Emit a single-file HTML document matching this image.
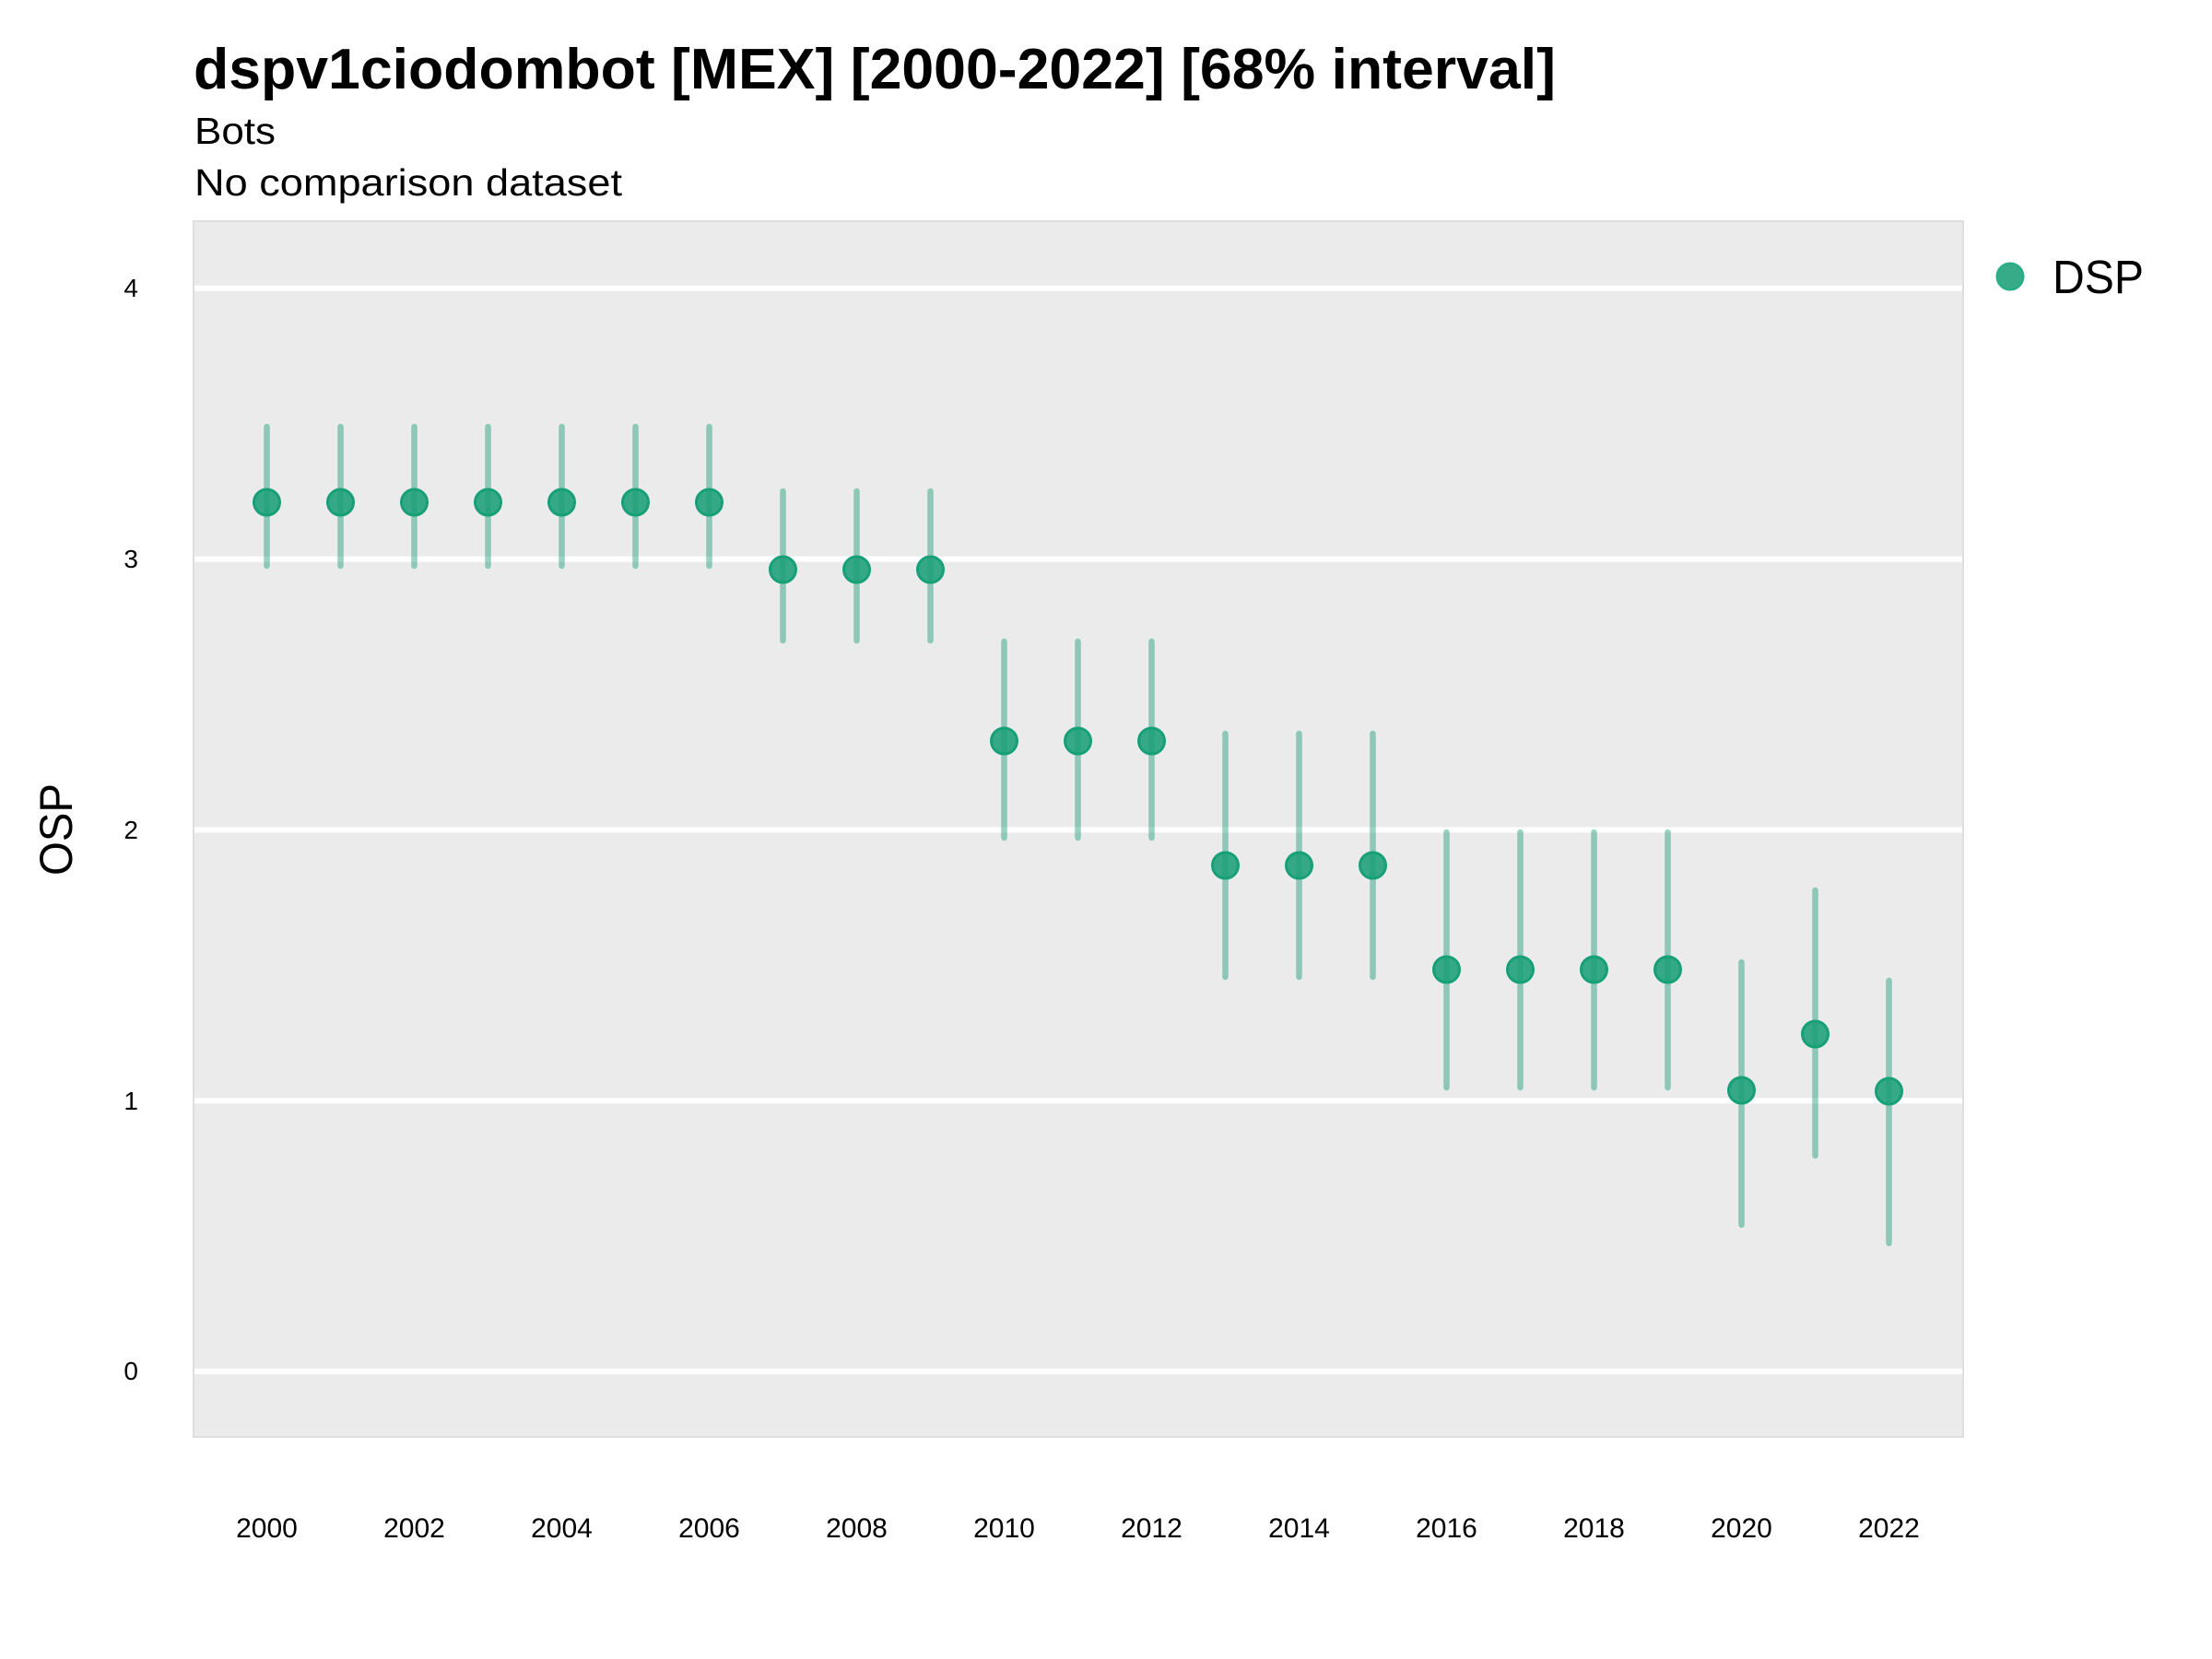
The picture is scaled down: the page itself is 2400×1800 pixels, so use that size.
<!DOCTYPE html>
<html>
<head>
<meta charset="utf-8">
<style>
html,body{margin:0;padding:0;background:#ffffff;}
svg{display:block;}
</style>
</head>
<body>
<svg width="2400" height="1800" viewBox="0 0 2400 1800" xmlns="http://www.w3.org/2000/svg" font-family="Liberation Sans, Arial, sans-serif">
<rect x="0" y="0" width="2400" height="1800" fill="#ffffff"/>
<!-- titles -->
<text x="210" y="96" font-size="62" font-weight="bold" fill="#000" textLength="1478" lengthAdjust="spacingAndGlyphs">dspv1ciodombot [MEX] [2000-2022] [68% interval]</text>
<text x="211" y="156" font-size="41" fill="#000" textLength="88" lengthAdjust="spacingAndGlyphs">Bots</text>
<text x="211" y="212" font-size="41" fill="#000" textLength="464" lengthAdjust="spacingAndGlyphs">No comparison dataset</text>

<!-- panel -->
<rect x="210" y="240" width="1920" height="1319" fill="#ebebeb" stroke="#dedede" stroke-width="2"/>
<g stroke="#ffffff" stroke-width="6">
<line x1="211" y1="312.7" x2="2129" y2="312.7"/>
<line x1="211" y1="606.6" x2="2129" y2="606.6"/>
<line x1="211" y1="900.4" x2="2129" y2="900.4"/>
<line x1="211" y1="1194.2" x2="2129" y2="1194.2"/>
<line x1="211" y1="1488" x2="2129" y2="1488"/>
</g>

<!-- y tick labels -->
<g font-size="28" fill="#000" text-anchor="end">
<text x="150" y="322">4</text>
<text x="150" y="616">3</text>
<text x="150" y="910">2</text>
<text x="150" y="1204">1</text>
<text x="150" y="1497">0</text>
</g>
<text transform="translate(78,900) rotate(-90)" font-size="50" fill="#000" text-anchor="middle" textLength="100" lengthAdjust="spacingAndGlyphs">OSP</text>

<!-- x tick labels -->
<g font-size="30" fill="#000" text-anchor="middle">
<text x="289.5" y="1668">2000</text>
<text x="449.5" y="1668">2002</text>
<text x="609.5" y="1668">2004</text>
<text x="769.5" y="1668">2006</text>
<text x="929.5" y="1668">2008</text>
<text x="1089.5" y="1668">2010</text>
<text x="1249.5" y="1668">2012</text>
<text x="1409.5" y="1668">2014</text>
<text x="1569.5" y="1668">2016</text>
<text x="1729.5" y="1668">2018</text>
<text x="1889.5" y="1668">2020</text>
<text x="2049.5" y="1668">2022</text>
</g>

<!-- intervals -->
<g stroke="#1b9e77" stroke-opacity="0.45" stroke-width="6.5" stroke-linecap="round">
<line x1="289.5" y1="463" x2="289.5" y2="614"/>
<line x1="369.5" y1="463" x2="369.5" y2="614"/>
<line x1="449.5" y1="463" x2="449.5" y2="614"/>
<line x1="529.5" y1="463" x2="529.5" y2="614"/>
<line x1="609.5" y1="463" x2="609.5" y2="614"/>
<line x1="689.5" y1="463" x2="689.5" y2="614"/>
<line x1="769.5" y1="463" x2="769.5" y2="614"/>
<line x1="849.5" y1="533" x2="849.5" y2="695"/>
<line x1="929.5" y1="533" x2="929.5" y2="695"/>
<line x1="1009.5" y1="533" x2="1009.5" y2="695"/>
<line x1="1089.5" y1="696" x2="1089.5" y2="909"/>
<line x1="1169.5" y1="696" x2="1169.5" y2="909"/>
<line x1="1249.5" y1="696" x2="1249.5" y2="909"/>
<line x1="1329.5" y1="796" x2="1329.5" y2="1060"/>
<line x1="1409.5" y1="796" x2="1409.5" y2="1060"/>
<line x1="1489.5" y1="796" x2="1489.5" y2="1060"/>
<line x1="1569.5" y1="903" x2="1569.5" y2="1180"/>
<line x1="1649.5" y1="903" x2="1649.5" y2="1180"/>
<line x1="1729.5" y1="903" x2="1729.5" y2="1180"/>
<line x1="1809.5" y1="903" x2="1809.5" y2="1180"/>
<line x1="1889.5" y1="1044" x2="1889.5" y2="1329"/>
<line x1="1969.5" y1="966" x2="1969.5" y2="1254"/>
<line x1="2049.5" y1="1064" x2="2049.5" y2="1349"/>
</g>

<!-- points -->
<g fill="#1b9e77" fill-opacity="0.88" stroke="#17a078" stroke-width="3">
<circle cx="289.5" cy="545" r="14"/>
<circle cx="369.5" cy="545" r="14"/>
<circle cx="449.5" cy="545" r="14"/>
<circle cx="529.5" cy="545" r="14"/>
<circle cx="609.5" cy="545" r="14"/>
<circle cx="689.5" cy="545" r="14"/>
<circle cx="769.5" cy="545" r="14"/>
<circle cx="849.5" cy="618" r="14"/>
<circle cx="929.5" cy="618" r="14"/>
<circle cx="1009.5" cy="618" r="14"/>
<circle cx="1089.5" cy="804" r="14"/>
<circle cx="1169.5" cy="804" r="14"/>
<circle cx="1249.5" cy="804" r="14"/>
<circle cx="1329.5" cy="939" r="14"/>
<circle cx="1409.5" cy="939" r="14"/>
<circle cx="1489.5" cy="939" r="14"/>
<circle cx="1569.5" cy="1052" r="14"/>
<circle cx="1649.5" cy="1052" r="14"/>
<circle cx="1729.5" cy="1052" r="14"/>
<circle cx="1809.5" cy="1052" r="14"/>
<circle cx="1889.5" cy="1183" r="14"/>
<circle cx="1969.5" cy="1122" r="14"/>
<circle cx="2049.5" cy="1184" r="14"/>
</g>

<!-- legend -->
<circle cx="2181" cy="300" r="14" fill="#1b9e77" fill-opacity="0.88" stroke="#2aae88" stroke-width="3"/>
<text x="2227" y="318" font-size="51" fill="#000" textLength="99" lengthAdjust="spacingAndGlyphs">DSP</text>
</svg>
</body>
</html>
